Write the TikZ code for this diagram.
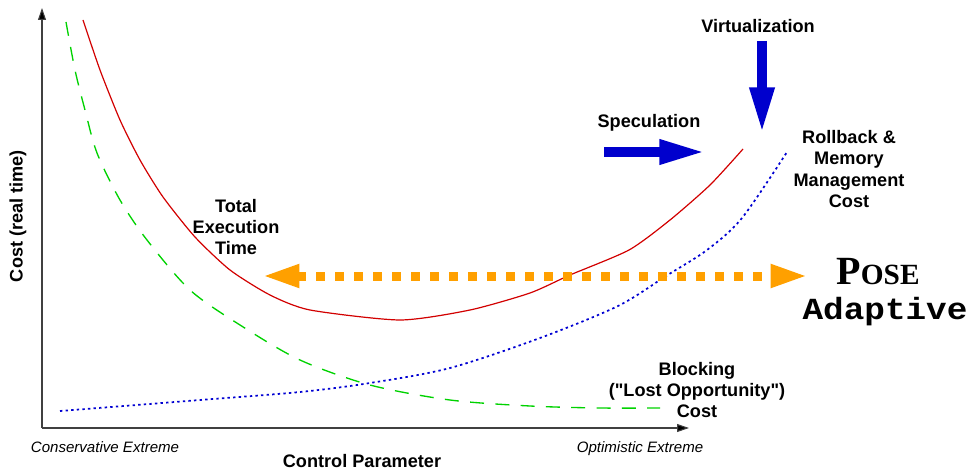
\documentclass[tikz,border=0pt]{standalone}
\usepackage{fontspec}
\setmainfont{Liberation Sans}
\newfontfamily\labelsans{Liberation Sans}
\newfontfamily\poseserif{Liberation Serif}
\newfontfamily\adaptmono[FakeStretch=1.12]{Liberation Mono}
\usetikzlibrary{arrows.meta,positioning}

\definecolor{totalred}{RGB}{210,0,0}
\definecolor{blockgreen}{RGB}{0,210,0}
\definecolor{rollblue}{RGB}{0,0,210}
\definecolor{pushblue}{RGB}{0,0,205}
\definecolor{poseorange}{RGB}{255,160,0}

\begin{document}
\begin{tikzpicture}[x=0.75pt,y=-0.75pt,
    lbl/.style={font=\labelsans\bfseries\fontsize{13.6}{15.8}\selectfont,align=center,inner sep=0pt},
    extreme/.style={font=\labelsans\itshape\fontsize{11.3}{13}\selectfont,inner sep=0pt,anchor=base},
    axis/.style={line width=0.8pt,black!75,-{Triangle[length=9pt,width=6pt,fill=black]}},
    push/.style={line width=7.5pt,pushblue,-{Triangle[length=35pt,width=17pt]}},
    adapt/.style={line width=6.75pt,poseorange,dash pattern=on 6.75pt off 7.5pt,
      {Triangle[length=28pt,width=16pt]}-{Triangle[length=28pt,width=16pt]}}]
  \useasboundingbox (0,0) rectangle (969,470);

  % axes
  \coordinate (origin) at (42,428);
  \coordinate (ytop) at (42,8);
  \coordinate (xend) at (689,428);
  \draw[axis] (origin) -- (ytop);
  \draw[axis] (origin) -- (xend);

  % cost curves
  \draw[blockgreen,line width=1pt,dash pattern=on 10.5pt off 8.5pt] plot[smooth,tension=0.5] coordinates
    {(66,22) (75,70) (85,110) (97,153) (120,200) (147,240) (190,290) (240,325)
     (300,360) (370,385) (450,400) (530,406) (600,408) (660,408)};
  \draw[rollblue,line width=1.3pt,dash pattern=on 1.8pt off 2.4pt] plot[smooth,tension=0.5] coordinates
    {(60,411) (200,400) (300,392) (370,383) (450,368) (540,338) (618,306)
     (666,276) (707,250) (742,218) (787,152)};
  \draw[totalred,line width=0.9pt] plot[smooth,tension=0.4] coordinates
    {(83,20) (100,70) (120,120) (140,160) (163,197) (195,237) (230,270) (270,295)
     (310,310) (400,320) (470,310) (530,293) (570,275) (629,250) (670,220)
     (710,185) (743,149)};

  % POSE adaptive range
  \coordinate (aleft) at (262,276);
  \coordinate (aright) at (808,276);
  \draw[adapt] (aleft) -- (aright);

  % pushes
  \coordinate (specstart) at (604,152);
  \coordinate (specend) at (706,152);
  \coordinate (virtstart) at (762,41);
  \coordinate (virtend) at (762,134);
  \draw[push] (specstart) -- (specend);
  \draw[push] (virtstart) -- (virtend);

  % labels
  \node[lbl,anchor=base] (virt) at (758,33) {Virtualization};
  \node[lbl,anchor=base] (spec) at (649,128) {Speculation};
  \node[lbl] (rollback) at (849,169) {Rollback \&\\Memory\\Management\\Cost};
  \node[lbl] (total) at (236,227) {Total\\Execution\\Time};
  \node[lbl] (blocking) at (697,390) {Blocking\\("Lost Opportunity")\\Cost};
  \node[lbl,rotate=90] (ylab) at (18,216) {Cost (real time)};
  \node[extreme] (cons) at (105,452) {Conservative Extreme};
  \node[extreme] (opt) at (640,452) {Optimistic Extreme};
  \node[lbl,anchor=base] (xlab) at (362,467) {Control Parameter};
  \node[inner sep=0pt,anchor=base,font=\poseserif\bfseries] (pose) at (878,284)
    {\fontsize{30}{32}\selectfont P\fontsize{22}{24}\selectfont OSE};
  \node[inner sep=0pt,anchor=base,font=\adaptmono\bfseries\fontsize{23}{25}\selectfont] (adaptive) at (885,319) {Adaptive};
\end{tikzpicture}
\end{document}
